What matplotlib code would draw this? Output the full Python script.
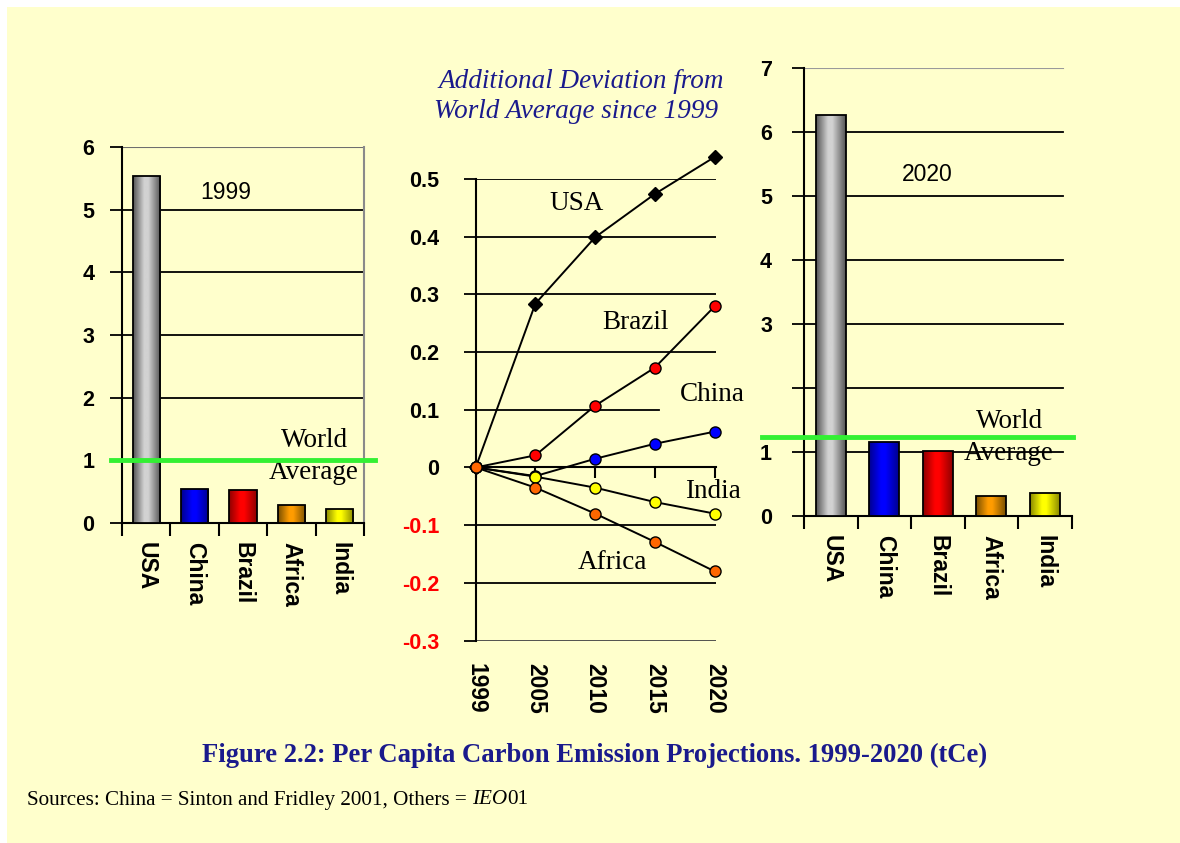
import numpy as np
import matplotlib
matplotlib.use("Agg")
import matplotlib.pyplot as plt
from matplotlib.colors import LinearSegmentedColormap
from matplotlib.patches import Rectangle

# per capita emissions (tCe) by region
regions = ["USA", "China", "Brazil", "Africa", "India"]
emis_1999 = [5.53, 0.54, 0.52, 0.28, 0.23]
emis_2020 = [6.27, 1.155, 1.02, 0.317, 0.361]
world_1999 = 1.0
world_2020 = 1.227

# additional deviation from world average since 1999
years = ["1999", "2005", "2010", "2015", "2020"]
dev_usa = [0, 0.284, 0.399, 0.474, 0.538]
dev_brazil = [0, 0.021, 0.107, 0.173, 0.279]
dev_china = [0, -0.015, 0.015, 0.041, 0.062]
dev_india = [0, -0.016, -0.035, -0.060, -0.080]
dev_africa = [0, -0.035, -0.080, -0.129, -0.180]

BG = "#FFFFCC"
GREEN = "#33F033"
NAVY = "#1A1A8C"
SANS = "Liberation Sans"
SERIF = "Liberation Serif"
TICK_FS = 15.5
CAT_FS = 16.5

# (dark edge, bright centre) for the cylinder shading
bar_shades = [("#555555", "#d2d2d2"), ("#00008f", "#0000ff"), ("#8f0000", "#ff0000"),
              ("#7a5000", "#ff9c00"), ("#8a8a00", "#ffff00")]

W, H = 1180, 843
fig = plt.figure(figsize=(W / 100, H / 100), dpi=100)
fig.patch.set_facecolor("white")
fig.patches.append(Rectangle((7 / W, 0), 1, 1 - 7 / H, transform=fig.transFigure,
                             facecolor=BG, edgecolor="none", zorder=-10))


def px_axes(x0, y0, x1, y1):
    # axes from pixel box (top-left origin)
    ax = fig.add_axes([x0 / W, 1 - y1 / H, (x1 - x0) / W, (y1 - y0) / H])
    ax.set_facecolor("none")
    return ax


def shaded_bars(ax, values, width):
    x = np.arange(len(values))
    bars = ax.bar(x, values, width, color="none", edgecolor="black", linewidth=1.3, zorder=4)
    grad = np.linspace(0, 1, 80).reshape(1, -1)
    for b, (dark, light) in zip(bars, bar_shades):
        cmap = LinearSegmentedColormap.from_list("", [(0, dark), (0.4, light), (0.55, light), (1, dark)])
        im = ax.imshow(grad, cmap=cmap, aspect="auto", interpolation="bilinear", zorder=3,
                       extent=[b.get_x(), b.get_x() + b.get_width(), 0, b.get_height()])
        im.set_clip_path(b)
    return bars


def bar_panel(ax, values, ymax, top_color, right_spine, grid_end, label_pad):
    shaded_bars(ax, values, 0.56)
    ax.set_xlim(-0.5, len(values) - 0.5)
    ax.set_ylim(0, ymax)
    for v in range(1, ymax):
        ax.axhline(v, xmax=grid_end, color="black", lw=1.3, zorder=1)
    ax.axhline(ymax, xmax=grid_end, color=top_color, lw=1.5, zorder=1)
    for s in ["top", "right"]:
        ax.spines[s].set_visible(False)
    if right_spine:
        ax.spines["right"].set_visible(True)
        ax.spines["right"].set_color("#8a8a8a")
        ax.spines["right"].set_linewidth(1.5)
    ax.spines["left"].set_linewidth(1.5)
    ax.spines["bottom"].set_linewidth(1.5)
    ax.set_yticks(range(0, ymax + 1))
    ax.tick_params(axis="y", direction="out", length=9, width=1.3, pad=label_pad,
                   labelsize=TICK_FS)
    ax.set_xticks(np.arange(len(values)))
    ax.set_xticklabels(regions, rotation=270, fontsize=CAT_FS, fontfamily=SANS, fontweight="bold")
    ax.tick_params(axis="x", which="major", length=0, pad=14)
    ax.set_xticks(np.arange(len(values) + 1) - 0.5, minor=True)
    ax.tick_params(axis="x", which="minor", direction="out", length=9, width=1.5)
    for t in ax.get_yticklabels():
        t.set_fontfamily(SANS)
        t.set_fontweight("bold")


lab_kw = dict(fontsize=19.5, fontfamily=SERIF, ha="center", va="center")

# left panel: 1999
ax1 = px_axes(122, 147, 364, 523)
bar_panel(ax1, emis_1999, 6, "#6e6e6e", True, 1.0, 11)
ax1.axhline(world_1999, xmin=-0.045, xmax=1.045, color=GREEN, lw=3.5, zorder=6, clip_on=False)
ax1.text(1.65, 5.28, "1999", fontsize=16.5, fontfamily=SANS, ha="center", va="center")
ax1.text(3.47, 1.32, "World", **lab_kw)
ax1.text(3.47, 0.80, "Average", **lab_kw)

# right panel: 2020
ax3 = px_axes(804, 67.9, 1071.5, 516)
bar_panel(ax3, emis_2020, 7, "#9a9a9a", False, 0.968, 14)
ax3.set_yticklabels(["0", "1", "", "3", "4", "5", "6", "7"], fontfamily=SANS, fontweight="bold")
ax3.axhline(world_2020, xmin=-0.158, xmax=1.004, color=GREEN, lw=3.5, zorder=6, clip_on=False)
ax3.text(1.81, 5.33, "2020", fontsize=16.5, fontfamily=SANS, ha="center", va="center")
ax3.text(3.35, 1.47, "World", **lab_kw)
ax3.text(3.33, 0.97, "Average", **lab_kw)

# middle panel: deviation lines
ax2 = px_axes(475.7, 179, 715.7, 640.5)
xi = np.arange(len(years))
ax2.set_xlim(0, 4.02)
ax2.set_ylim(-0.3, 0.5)
for v in [0.5, 0.4, 0.3, 0.2, -0.1, -0.2]:
    ax2.axhline(v, color="black", lw=1.3, zorder=1)
ax2.axhline(0.1, xmax=3.07 / 4.02, color="black", lw=1.3, zorder=1)
ax2.axhline(-0.3, color="#444444", lw=1.3, zorder=1)
for s in ["top", "right"]:
    ax2.spines[s].set_visible(False)
ax2.spines["bottom"].set_position(("data", 0))
ax2.spines["bottom"].set_bounds(0, 4.02)
ax2.spines["left"].set_linewidth(1.5)
ax2.spines["bottom"].set_linewidth(1.5)
yt = [0.5, 0.4, 0.3, 0.2, 0.1, 0, -0.1, -0.2, -0.3]
ax2.set_yticks(yt)
ax2.set_yticklabels(["0.5", "0.4", "0.3", "0.2", "0.1", "0", "-0.1", "-0.2", "-0.3"],
                    fontsize=TICK_FS, fontfamily=SANS, fontweight="bold")
for t, v in zip(ax2.get_yticklabels(), yt):
    t.set_color("red" if v < 0 else "black")
ax2.tick_params(axis="y", direction="out", length=9, width=1.3, pad=17)
ax2.set_xticks(xi)
ax2.set_xticklabels(years, rotation=270, fontsize=CAT_FS, fontfamily=SANS, fontweight="bold")
ax2.tick_params(axis="x", direction="out", length=8, width=1.5, pad=133)

line_kw = dict(color="black", lw=1.4, clip_on=False, markeredgecolor="black",
               markeredgewidth=1.0)
ax2.plot(xi, dev_usa, marker="D", markersize=7, markerfacecolor="black", zorder=5, **line_kw)
ax2.plot(xi, dev_brazil, marker="o", markersize=8, markerfacecolor="#ff0000", zorder=5, **line_kw)
ax2.plot(xi, dev_china, marker="o", markersize=8, markerfacecolor="#0000ff", zorder=5, **line_kw)
ax2.plot(xi, dev_india, marker="o", markersize=8, markerfacecolor="#ffff00", zorder=6, **line_kw)
ax2.plot(xi, dev_africa, marker="o", markersize=8, markerfacecolor="#ff6600", zorder=7, **line_kw)

ax2.text(1.69, 0.458, "USA", **lab_kw)
ax2.text(2.67, 0.252, "Brazil", **lab_kw)
ax2.text(3.96, 0.126, "China", **lab_kw)
ax2.text(3.97, -0.042, "India", **lab_kw)
ax2.text(2.29, -0.165, "Africa", **lab_kw)

# headings and notes
fig.text(581 / W, 1 - 81.7 / H, "Additional Deviation from", fontsize=19.5, fontfamily=SERIF,
         style="italic", color=NAVY, ha="center", va="center")
fig.text(576.5 / W, 1 - 111.7 / H, "World Average since 1999", fontsize=19.5, fontfamily=SERIF,
         style="italic", color=NAVY, ha="center", va="center")
fig.text(595 / W, 1 - 755 / H, "Figure 2.2: Per Capita Carbon Emission Projections. 1999-2020 (tCe)",
         fontsize=19.2, fontfamily=SERIF, fontweight="bold", color=NAVY, ha="center", va="center")

src_kw = dict(fontsize=15.2, fontfamily=SERIF, color="black", va="center")
t1 = fig.text(27 / W, 1 - 800 / H, "Sources: China = Sinton and Fridley 2001, Others = ", **src_kw)
fig.canvas.draw()
x = t1.get_window_extent().x1 / W
t2 = fig.text(x, 1 - 800 / H, "IEO", style="italic", **src_kw)
fig.canvas.draw()
x = t2.get_window_extent().x1 / W
fig.text(x, 1 - 800 / H, "01", **src_kw)

fig.savefig("out.png", dpi=100, facecolor=fig.get_facecolor())
